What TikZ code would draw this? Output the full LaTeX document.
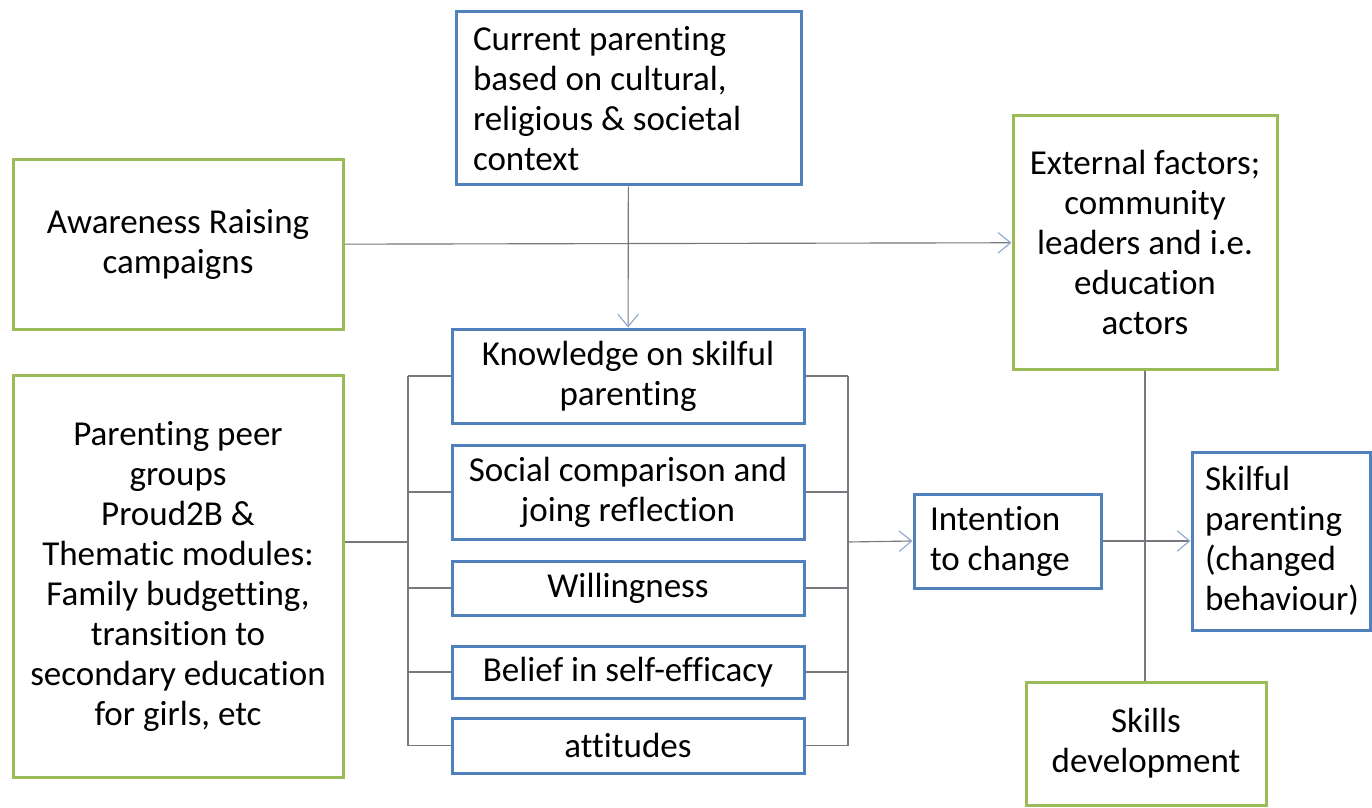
\documentclass[tikz,border=0pt]{standalone}
\usepackage{fontspec}
\setmainfont{Carlito}[Ligatures = NoCommon]
\usetikzlibrary{arrows.meta}
\definecolor{boxblue}{HTML}{4F81BD}
\definecolor{boxgreen}{HTML}{9BBB59}
\definecolor{linegrey}{HTML}{77777D}
\definecolor{tipblue}{HTML}{8FA8CF}
\begin{document}
\begin{tikzpicture}[x = .5pt, y = -.5pt,
        box/.style = {fill = white, line width = 1.5pt, inner sep = 0pt, align = center, font = \fontsize{17.5}{20}\selectfont},
        bluebox/.style = {box, draw = boxblue},
        greenbox/.style = {box, draw = boxgreen},
        conn/.style = {draw = linegrey, line width = .2mm},
        arr/.style = {conn, -{Straight Barb[length = 2.2mm, width = 3.6mm, color = tipblue]}}]
                \useasboundingbox(0, 0) rectangle (1372, 808);

                \node[bluebox, minimum height = 86.5pt, text width = 155.5pt, inner xsep = 8.5pt, align = flush left](cur) at (628.5, 98.5) {Current parenting\\based on cultural,\\religious \& societal\\context};
                \node[greenbox, minimum width = 165pt, minimum height = 84.5pt](aware) at (178, 244.5) {Awareness Raising\\campaigns};
                \node[greenbox, minimum width = 165pt, minimum height = 201pt](peer) at (178, 576) {Parenting peer\\groups\\Proud2B \&\\Thematic modules:\\Family budgetting,\\transition to\\secondary education\\for girls, etc};
                \node[greenbox, minimum width = 132pt, minimum height = 126.5pt](ext) at (1145, 242.5) {External factors;\\community\\leaders and i.e.\\education\\actors};

                \node[bluebox, minimum width = 176pt, minimum height = 47pt](know) at (628, 376) {Knowledge on skilful\\parenting};
                \node[bluebox, minimum width = 176pt, minimum height = 47pt](social) at (628, 492) {Social comparison and\\joing reflection};
                \node[bluebox, minimum width = 176pt, minimum height = 27pt](will) at (628, 588) {Willingness};
                \node[bluebox, minimum width = 176pt, minimum height = 26pt](belief) at (628, 672) {Belief in self-efficacy};
                \node[bluebox, minimum width = 176pt, minimum height = 27.5pt](att) at (628, 745.5) {attitudes};

                \node[bluebox, minimum height = 47pt, text width = 77.5pt, inner xsep = 8pt, align = flush left](intent) at (1007.5, 541) {Intention\\to change};
                \node[bluebox, minimum height = 89pt, text width = 76pt, inner xsep = 6.5pt, align = flush left](skil) at (1281, 541) {Skilful\\parenting\\(changed\\behaviour)};
                \node[greenbox, minimum width = 120pt, minimum height = 61.5pt](skills) at (1146, 743.5) {Skills\\development};

                \coordinate(lbar) at (408, 542);
                \coordinate(rbar) at (848, 542);

                \draw[arr](aware) to (ext);
                \draw[arr](cur) to (know);

                \draw[conn](peer.east |- lbar) to (lbar);
                \draw[conn](know.west -| lbar) to (att.west -| lbar);
                \draw[conn](know.east -| rbar) to (att.east -| rbar);
                \foreach \nm in {know, social, will, belief, att}
                {
                    \draw[conn](\nm.west -| lbar) to (\nm.west);
                    \draw[conn](\nm.east) to (\nm.east -| rbar);
                }
                \draw[arr](rbar) to (intent.west);
                \draw[arr](intent) to (skil);
                \draw[conn](ext) to (ext |- skills.north);
            \end{tikzpicture}
\end{document}
